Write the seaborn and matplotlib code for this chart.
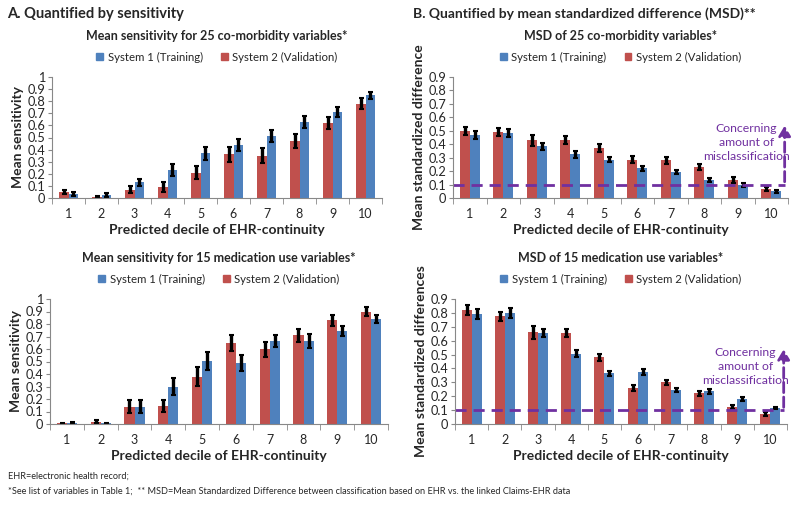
import numpy as np
import pandas as pd
import seaborn as sns
import matplotlib
import matplotlib.pyplot as plt
from matplotlib.patches import Patch

matplotlib.use('agg')

deciles = [1, 2, 3, 4, 5, 6, 7, 8, 9, 10]

# A top: mean sensitivity, 25 co-morbidity variables
sens_comorb_sys2 = [0.05, 0.01, 0.07, 0.09, 0.21, 0.36, 0.35, 0.47, 0.62, 0.78]
sens_comorb_sys2_err = [0.02, 0.01, 0.03, 0.04, 0.055, 0.06, 0.06, 0.055, 0.05, 0.045]
sens_comorb_sys1 = [0.035, 0.025, 0.13, 0.23, 0.37, 0.44, 0.51, 0.63, 0.71, 0.85]
sens_comorb_sys1_err = [0.015, 0.015, 0.03, 0.05, 0.055, 0.05, 0.05, 0.05, 0.04, 0.03]

# A bottom: mean sensitivity, 15 medication use variables
sens_med_sys2 = [0.005, 0.02, 0.14, 0.145, 0.38, 0.65, 0.60, 0.71, 0.83, 0.90]
sens_med_sys2_err = [0.005, 0.015, 0.05, 0.05, 0.075, 0.065, 0.06, 0.05, 0.045, 0.035]
sens_med_sys1 = [0.01, 0.005, 0.14, 0.30, 0.505, 0.49, 0.665, 0.665, 0.745, 0.84]
sens_med_sys1_err = [0.01, 0.005, 0.05, 0.07, 0.07, 0.065, 0.05, 0.055, 0.04, 0.03]

# B top: MSD, 25 co-morbidity variables
msd_comorb_sys2 = [0.495, 0.49, 0.43, 0.43, 0.37, 0.285, 0.28, 0.23, 0.135, 0.07]
msd_comorb_sys2_err = [0.03, 0.03, 0.04, 0.03, 0.03, 0.025, 0.025, 0.02, 0.02, 0.015]
msd_comorb_sys1 = [0.47, 0.485, 0.385, 0.325, 0.285, 0.22, 0.195, 0.135, 0.10, 0.05]
msd_comorb_sys1_err = [0.03, 0.03, 0.025, 0.025, 0.02, 0.02, 0.015, 0.015, 0.015, 0.01]

# B bottom: MSD, 15 medication use variables
msd_med_sys2 = [0.82, 0.775, 0.66, 0.655, 0.48, 0.26, 0.30, 0.22, 0.12, 0.07]
msd_med_sys2_err = [0.035, 0.035, 0.045, 0.03, 0.025, 0.02, 0.02, 0.02, 0.015, 0.015]
msd_med_sys1 = [0.79, 0.80, 0.655, 0.505, 0.365, 0.375, 0.245, 0.235, 0.18, 0.115]
msd_med_sys1_err = [0.035, 0.035, 0.03, 0.025, 0.02, 0.02, 0.015, 0.02, 0.015, 0.01]

THRESHOLD = 0.1

SYS1 = 'System 1 (Training)'
SYS2 = 'System 2 (Validation)'
BLUE = '#4F81BD'
RED = '#C0504D'
PURPLE = '#7030A0'

sns.set_style('white')
plt.rcParams['font.family'] = ['Lato', 'DejaVu Sans']

W, H = 800, 505
fig = plt.figure(figsize=(W / 100, H / 100), dpi=100)


def draw_panel(px, sys2, sys2_err, sys1, sys1_err, title, ylabel, ymax, threshold=False):
    # px = (left, top, right, bottom) of the plot area in pixels
    l, t, r, b = px
    ax = fig.add_axes([l / W, 1 - b / H, (r - l) / W, (b - t) / H])
    hpx = b - t
    df = pd.DataFrame({
        'decile': deciles * 2,
        'system': [SYS2] * 10 + [SYS1] * 10,
        'value': sys2 + sys1,
    })
    sns.barplot(data=df, x='decile', y='value', hue='system', hue_order=[SYS2, SYS1],
                palette=[RED, BLUE], saturation=1, errorbar=None, width=0.6, ax=ax,
                legend=False, linewidth=0)
    # error bars centred on each drawn bar
    bars = ax.patches
    xs = [p.get_x() + p.get_width() / 2 for p in bars]
    ys = [p.get_height() for p in bars]
    errs = sys2_err + sys1_err
    ax.errorbar(xs, ys, yerr=errs, fmt='none', ecolor='black', elinewidth=2.4,
                capsize=1.8, capthick=1.5)
    ax.set_ylim(0, ymax)
    ax.set_xlim(-0.5, 9.5)
    ticks = np.round(np.arange(0, ymax + 0.001, 0.1), 1)
    ax.set_yticks(ticks)
    ax.set_yticklabels([f'{t:g}' for t in ticks])
    ax.tick_params(axis='y', labelsize=9.2, length=3, color='#888888', direction='out',
                   left=True, pad=2)
    ax.tick_params(axis='x', labelsize=9, length=0, pad=7)
    ax.set_xticks(np.arange(-0.5, 10, 1), minor=True)
    ax.tick_params(axis='x', which='minor', length=4, color='#888888', bottom=True)
    for s in ['top', 'right']:
        ax.spines[s].set_visible(False)
    for s in ['left', 'bottom']:
        ax.spines[s].set_color('#888888')
        ax.spines[s].set_linewidth(0.8)
    ax.set_xlabel('Predicted decile of EHR-continuity', fontsize=10, fontweight='bold',
                  labelpad=3)
    ax.set_ylabel(ylabel, fontsize=10, fontweight='bold', labelpad=2)
    ax.text(0.5, 1 + 41 / hpx, title, transform=ax.transAxes, ha='center', va='center',
            fontsize=9, fontweight='bold')
    handles = [Patch(color=BLUE, label=SYS1), Patch(color=RED, label=SYS2)]
    ax.legend(handles=handles, loc='center', bbox_to_anchor=(0.5, 1 + 20 / hpx), ncol=2,
              frameon=False, fontsize=8.2, handlelength=0.6, handleheight=0.6,
              handletextpad=0.4, columnspacing=1.6, borderpad=0, borderaxespad=0)
    if threshold:
        ax.axhline(THRESHOLD, xmin=0, xmax=0.99, color=PURPLE, linestyle='--', linewidth=2,
                   dashes=(4, 2.5))
        ax.annotate('', xy=(0.99, 0.62), xytext=(0.99, THRESHOLD / ymax),
                    xycoords='axes fraction',
                    arrowprops=dict(arrowstyle='-|>,head_width=0.3,head_length=0.5',
                                    color=PURPLE, linestyle='--',
                                    linewidth=2, mutation_scale=12))
        ax.text(0.875, 0.46, 'Concerning\namount of\nmisclassification', transform=ax.transAxes,
                ha='center', va='center', color=PURPLE, fontsize=8.8, linespacing=1.3)
    return ax


draw_panel((52, 77, 382, 198), sens_comorb_sys2, sens_comorb_sys2_err,
           sens_comorb_sys1, sens_comorb_sys1_err,
           'Mean sensitivity for 25 co-morbidity variables*', 'Mean sensitivity', 1.0)
draw_panel((453, 77, 788, 198), msd_comorb_sys2, msd_comorb_sys2_err,
           msd_comorb_sys1, msd_comorb_sys1_err,
           'MSD of 25 co-morbidity variables*', 'Mean standardized difference', 0.9,
           threshold=True)
draw_panel((50, 299, 388, 424), sens_med_sys2, sens_med_sys2_err,
           sens_med_sys1, sens_med_sys1_err,
           'Mean sensitivity for 15 medication use variables*', 'Mean sensitivity', 1.0)
draw_panel((455, 299, 787, 424), msd_med_sys2, msd_med_sys2_err,
           msd_med_sys1, msd_med_sys1_err,
           'MSD of 15 medication use variables*', 'Mean standardized differences', 0.9,
           threshold=True)

fig.text(7 / W, 1 - 14 / H, 'A. Quantified by sensitivity', fontsize=10.5,
         fontweight='bold', va='center')
fig.text(413 / W, 1 - 14 / H, 'B. Quantified by mean standardized difference (MSD)**',
         fontsize=10, fontweight='bold', va='center')
fig.text(8 / W, 1 - 476 / H, 'EHR=electronic health record;', fontsize=6.6, va='center')
fig.text(8 / W, 1 - 491 / H, '*See list of variables in Table 1;  ** MSD=Mean Standardized '
         'Difference between classification based on EHR vs. the linked Claims-EHR data',
         fontsize=6.6, va='center')

fig.savefig('out.png', dpi=100)
plt.close(fig)
